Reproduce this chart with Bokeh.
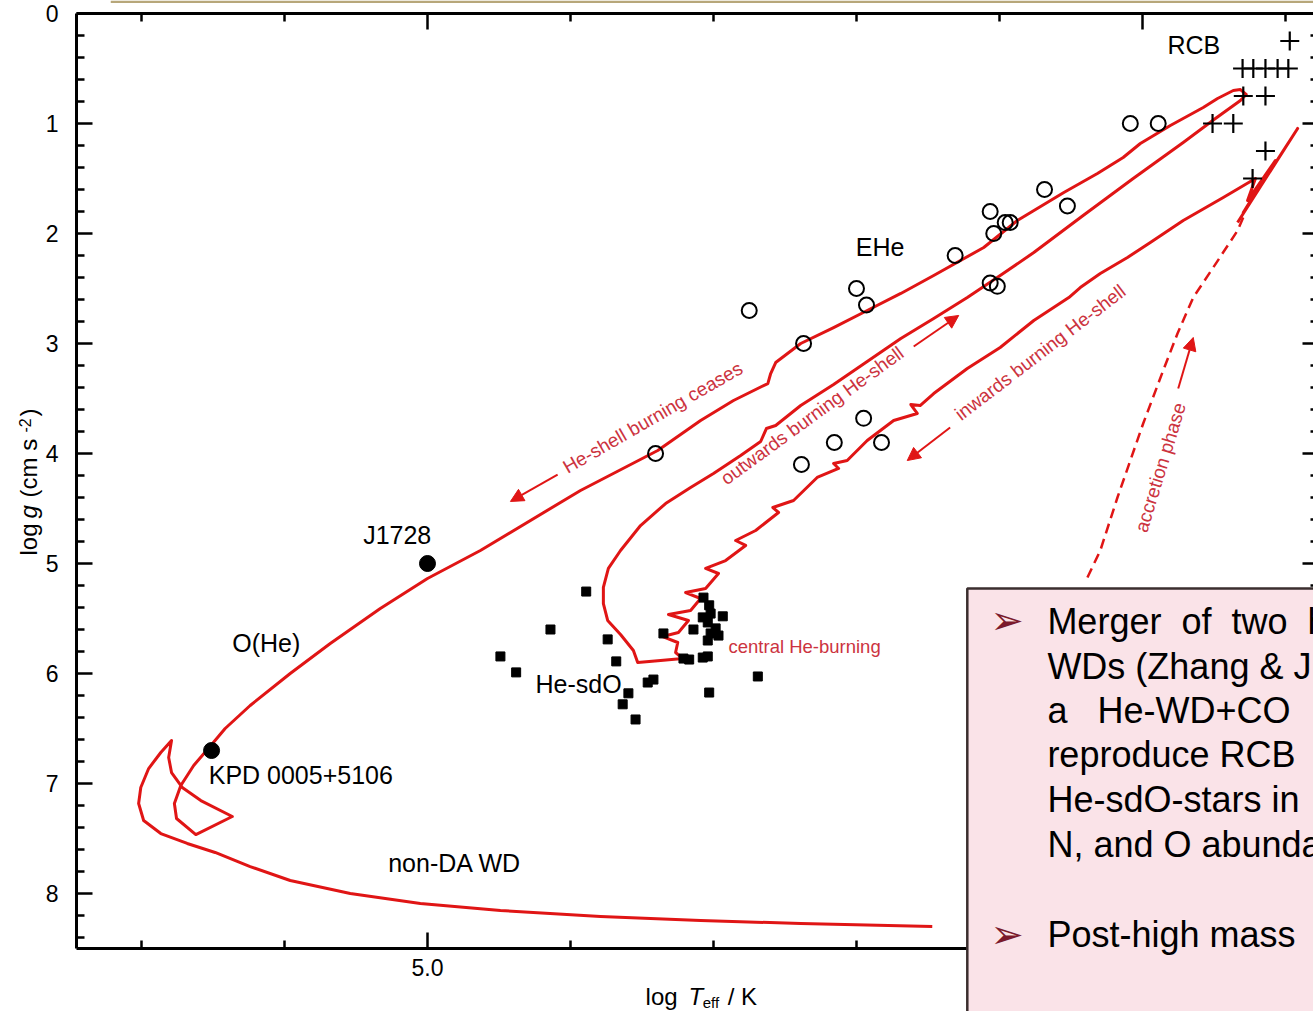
from bokeh.plotting import figure
from bokeh.models import (Range1d, LinearAxis, FixedTicker, Label, Arrow, NormalHead,
                          BoxAnnotation)
from bokeh.embed import file_html
from bokeh.resources import INLINE
import math

# ---------------- data (log Teff, log g) ----------------
rcb_logt = [3.794, 3.860, 3.845, 3.828, 3.811, 3.796, 3.859, 3.828, 3.902, 3.873, 3.828, 3.846]
rcb_logg = [0.25, 0.50, 0.50, 0.50, 0.50, 0.50, 0.75, 0.75, 1.00, 1.00, 1.25, 1.50]

ehe_logt = [4.017, 3.978, 4.137, 4.105, 4.213, 4.192, 4.185, 4.208, 4.262, 4.400,
            4.386, 4.213, 4.203, 4.550, 4.474, 4.390, 4.431, 4.365, 4.477, 4.681]
ehe_logg = [1.00, 1.00, 1.60, 1.75, 1.80, 1.90, 1.90, 2.00, 2.20, 2.50,
            2.65, 2.45, 2.48, 2.70, 3.00, 3.68, 3.90, 3.90, 4.10, 4.00]

hesdo_logt = [4.778, 4.828, 4.748, 4.898, 4.876, 4.736, 4.670, 4.614, 4.606, 4.604,
              4.587, 4.615, 4.628, 4.608, 4.597, 4.604, 4.593, 4.608, 4.642, 4.634,
              4.615, 4.608, 4.538, 4.692, 4.684, 4.719, 4.727, 4.709, 4.606]
hesdo_logg = [5.255, 5.600, 5.690, 5.845, 5.990, 5.890, 5.636, 5.310, 5.380, 5.455,
              5.480, 5.490, 5.600, 5.536, 5.590, 5.636, 5.655, 5.700, 5.864, 5.873,
              5.855, 5.845, 6.027, 6.082, 6.055, 6.180, 6.280, 6.418, 6.173]

star_names = ["J1728", "KPD 0005+5106"]
star_logt = [5.000, 5.302]
star_logg = [5.00, 6.70]

# merger evolution track, in order of evolution
spike_logt = [3.867, 3.783, 3.859, 3.814, 3.853, 3.842]
spike_logg = [1.900, 1.045, 1.809, 1.336, 1.700, 1.500]
inward_logt = [3.887, 3.943, 3.989, 4.021, 4.059, 4.087, 4.103, 4.152, 4.199, 4.245, 4.292,
               4.311, 4.324, 4.315, 4.348, 4.385, 4.413, 4.432, 4.425, 4.455, 4.488]
inward_logg = [1.673, 1.882, 2.082, 2.218, 2.364, 2.491, 2.582, 2.791, 3.036, 3.227, 3.455,
               3.564, 3.555, 3.636, 3.700, 3.882, 4.064, 4.091, 4.136, 4.218, 4.427]
zigzag_logt = [4.517, 4.509, 4.541, 4.569, 4.555, 4.583, 4.611, 4.593, 4.611, 4.639, 4.618,
               4.632, 4.663, 4.635, 4.649, 4.671, 4.650, 4.653, 4.643, 4.674, 4.706]
zigzag_logg = [4.491, 4.536, 4.700, 4.791, 4.836, 4.973, 5.045, 5.091, 5.227, 5.264, 5.318,
               5.427, 5.464, 5.518, 5.627, 5.664, 5.718, 5.809, 5.864, 5.882, 5.900]
outward_logt = [4.712, 4.730, 4.748, 4.754, 4.754, 4.747, 4.730, 4.702, 4.667, 4.632,
                4.600, 4.562, 4.534, 4.526, 4.513, 4.478, 4.432, 4.385, 4.338, 4.292,
                4.245, 4.199, 4.152, 4.083, 4.013, 3.943, 3.898, 3.863, 3.855, 3.863, 3.873]
outward_logg = [5.791, 5.645, 5.518, 5.364, 5.218, 5.045, 4.882, 4.655, 4.455, 4.309,
                4.182, 4.018, 3.891, 3.773, 3.745, 3.564, 3.373, 3.164, 2.955, 2.773,
                2.582, 2.382, 2.173, 1.836, 1.500, 1.173, 0.955, 0.791, 0.736, 0.691, 0.700]
ceases_logt = [3.895, 3.915, 3.961, 4.003, 4.027, 4.063, 4.110, 4.175, 4.222, 4.292,
               4.338, 4.385, 4.432, 4.478, 4.513, 4.520, 4.524, 4.572, 4.618, 4.678,
               4.786, 4.926, 5.000, 5.066, 5.136, 5.192, 5.248, 5.283, 5.303, 5.327,
               5.345, 5.354, 5.351]
ceases_logg = [0.773, 0.855, 1.018, 1.182, 1.309, 1.455, 1.627, 1.882, 2.127, 2.382,
               2.545, 2.700, 2.855, 3.000, 3.173, 3.273, 3.364, 3.518, 3.700, 3.973,
               4.336, 4.882, 5.136, 5.409, 5.727, 6.000, 6.291, 6.500, 6.655, 6.836,
               7.018, 7.182, 7.318]
loop_logt = [5.324, 5.273, 5.317, 5.343, 5.358, 5.362, 5.358, 5.373, 5.390, 5.401,
             5.404, 5.397, 5.373, 5.336, 5.297]
loop_logg = [7.464, 7.300, 7.155, 7.036, 6.900, 6.764, 6.609, 6.718, 6.864, 7.036,
             7.182, 7.336, 7.455, 7.545, 7.627]
wd_logt = [5.248, 5.192, 5.108, 5.010, 4.898, 4.758, 4.618, 4.478, 4.294]
wd_logg = [7.755, 7.882, 8.000, 8.091, 8.155, 8.209, 8.245, 8.273, 8.300]

accretion_logt = [4.077, 4.059, 4.035, 4.017, 3.999, 3.971, 3.951, 3.929, 3.901, 3.867, 3.856]
accretion_logg = [5.127, 4.882, 4.400, 4.064, 3.727, 3.245, 2.909, 2.582, 2.309, 1.973, 1.809]

x_major = [4.0, 5.0]
x_minor = [5.4, 5.2, 4.8, 4.6, 4.4, 4.2, 3.8]
y_major = [0, 1, 2, 3, 4, 5, 6, 7, 8]

box_lines = ["Merger\u00a0\u00a0of\u00a0\u00a0two\u00a0\u00a0h",
             "WDs (Zhang & J",
             "a\u00a0\u00a0\u00a0He-WD+CO",
             "reproduce RCB",
             "He-sdO-stars in",
             "N, and O abunda"]
box_line2 = "Post-high mass"

# ---------------- styles ----------------
RED = "#e01515"
TXTRED = "#cc3340"
FONT = "Liberation Sans"

# the frame spans the whole page; axes sit at fixed data positions
p = figure(width=1313, height=1011, output_backend="svg", toolbar_location=None,
           x_range=Range1d(5.5972, 3.7608), y_range=Range1d(9.0727, -0.1182),
           x_axis_location=None, y_axis_location=None,
           min_border=0, min_border_left=0, min_border_right=0,
           min_border_top=0, min_border_bottom=0)
p.grid.visible = False
p.outline_line_color = None
p.background_fill_color = "white"
p.border_fill_color = "white"

xt = FixedTicker(ticks=x_major, minor_ticks=x_minor)
yt = FixedTicker(ticks=y_major, minor_ticks=[i * 0.2 for i in range(43) if i % 5])


def style_axis(ax):
    ax.axis_line_width = 3
    ax.axis_line_color = "black"
    ax.major_tick_in = 16
    ax.major_tick_out = 0
    ax.minor_tick_in = 8
    ax.minor_tick_out = 0
    ax.major_tick_line_width = 2.5
    ax.minor_tick_line_width = 2.5
    ax.major_tick_line_color = "black"
    ax.minor_tick_line_color = "black"
    ax.major_label_text_font = FONT
    ax.major_label_text_font_size = "23px"
    ax.major_label_text_color = "black"


bottom = LinearAxis(ticker=xt, fixed_location=8.5, bounds=(3.70, 5.491),
                    major_label_overrides={4.0: "", 5.0: "5.0"})
style_axis(bottom)
bottom.major_label_standoff = 10
left = LinearAxis(ticker=yt, fixed_location=5.491, bounds=(0, 8.5))
style_axis(left)
left.major_label_standoff = 18
top = LinearAxis(ticker=xt, fixed_location=0.0, bounds=(3.70, 5.491),
                 major_label_overrides={4.0: "", 5.0: ""})
style_axis(top)
right = LinearAxis(ticker=yt, fixed_location=3.7538, bounds=(0, 8.5),
                   major_label_overrides={float(v): "" for v in y_major})
style_axis(right)
p.add_layout(bottom, "below")
p.add_layout(left, "left")
p.add_layout(top, "above")
p.add_layout(right, "right")

# tracks
track_logt = spike_logt + inward_logt + zigzag_logt + outward_logt + ceases_logt + loop_logt + wd_logt
track_logg = spike_logg + inward_logg + zigzag_logg + outward_logg + ceases_logg + loop_logg + wd_logg
p.line(track_logt, track_logg, line_color=RED, line_width=3, line_join="round")
p.line(accretion_logt, accretion_logg, line_color=RED, line_width=2.5, line_dash="10 6")

# stars
p.scatter(hesdo_logt, hesdo_logg, marker="square", size=9, color="black")
p.scatter(ehe_logt, ehe_logg, marker="circle", size=15, fill_color=None,
          line_color="black", line_width=2)
p.scatter(rcb_logt, rcb_logg, marker="cross", size=19, line_color="black", line_width=2.2)
p.scatter(star_logt, star_logg, marker="circle", size=16, color="black")

# arrows
arrows = [((4.818, 4.191), (4.884, 4.436)),
          ((4.320, 3.027), (4.257, 2.745)),
          ((4.269, 3.764), (4.329, 4.064)),
          ((3.950, 3.409), (3.929, 2.945))]
for (x0, y0), (x1, y1) in arrows:
    p.add_layout(Arrow(end=NormalHead(size=13, fill_color=RED, line_color=RED),
                       x_start=x0, y_start=y0, x_end=x1, y_end=y1,
                       line_color=RED, line_width=2))


def lab(x, y, text, size="25px", color="black", angle=0.0, align="left",
        style="normal", font=FONT, level="annotation"):
    p.add_layout(Label(x=x, y=y, text=text, text_font=font, text_font_size=size,
                       text_color=color, angle=angle, text_align=align,
                       text_baseline="middle", text_font_style=style, level=level))


# black region labels
lab(3.965, 0.282, "RCB")
lab(4.401, 2.127, "EHe")
lab(5.090, 4.745, star_names[0])
lab(5.273, 5.727, "O(He)")
lab(4.849, 6.091, "He-sdO")
lab(5.306, 6.927, star_names[1])
lab(5.055, 7.727, "non-DA WD")

# red phase labels
lab(4.579, 5.755, "central He-burning", size="18.5px", color=TXTRED)
lab(4.685, 3.673, "He-shell burning ceases", size="19px", color=TXTRED,
    angle=math.radians(30), align="center")
lab(4.462, 3.655, "outwards burning He-shell", size="19px", color=TXTRED,
    angle=math.radians(36), align="center")
lab(4.143, 3.082, "inwards burning He-shell", size="19px", color=TXTRED,
    angle=math.radians(37.5), align="center")
lab(3.975, 4.127, "accretion phase", size="19px", color=TXTRED,
    angle=math.radians(73), align="center")

# axis titles (pieces for italic / sub / superscript)
lab(5.558, 4.927, "log", size="24px", angle=math.pi / 2)
lab(5.558, 4.591, "g", size="24px", angle=math.pi / 2, style="italic")
lab(5.558, 4.400, "(cm s", size="24px", angle=math.pi / 2)
lab(5.5636, 3.809, "-2", size="16px", angle=math.pi / 2)
lab(5.558, 3.664, ")", size="24px", angle=math.pi / 2)
lab(4.695, 8.936, "log", size="24px")
lab(4.635, 8.936, "T", size="24px", style="italic")
lab(4.615, 8.991, "eff", size="15px")
lab(4.580, 8.936, "/ K", size="24px")

# decorative slide elements
p.add_layout(BoxAnnotation(left=5.443, right=3.70, top=-0.1182, bottom=-0.0955,
                           fill_color="#b7a77a", fill_alpha=1.0, line_alpha=0.0,
                           level="overlay"))
p.add_layout(BoxAnnotation(left=4.245, right=3.70, top=5.227, bottom=9.2,
                           fill_color="#fae3e8", fill_alpha=1.0, line_color="#3a2e2e",
                           line_alpha=1.0, line_width=2.5, level="overlay"))

line_ys = [5.523, 5.932, 6.332, 6.732, 7.141, 7.550]
for txt, yy in zip(box_lines, line_ys):
    lab(4.133, yy, txt, size="36px", level="overlay")
lab(4.133, 8.377, box_line2, size="36px", level="overlay")
lab(4.213, 5.518, "\u27a2", size="40px", color="#7b1a2c", font="DejaVu Sans", level="overlay")
lab(4.213, 8.364, "\u27a2", size="40px", color="#7b1a2c", font="DejaVu Sans", level="overlay")

open("out.html", "w").write(file_html(p, INLINE))
